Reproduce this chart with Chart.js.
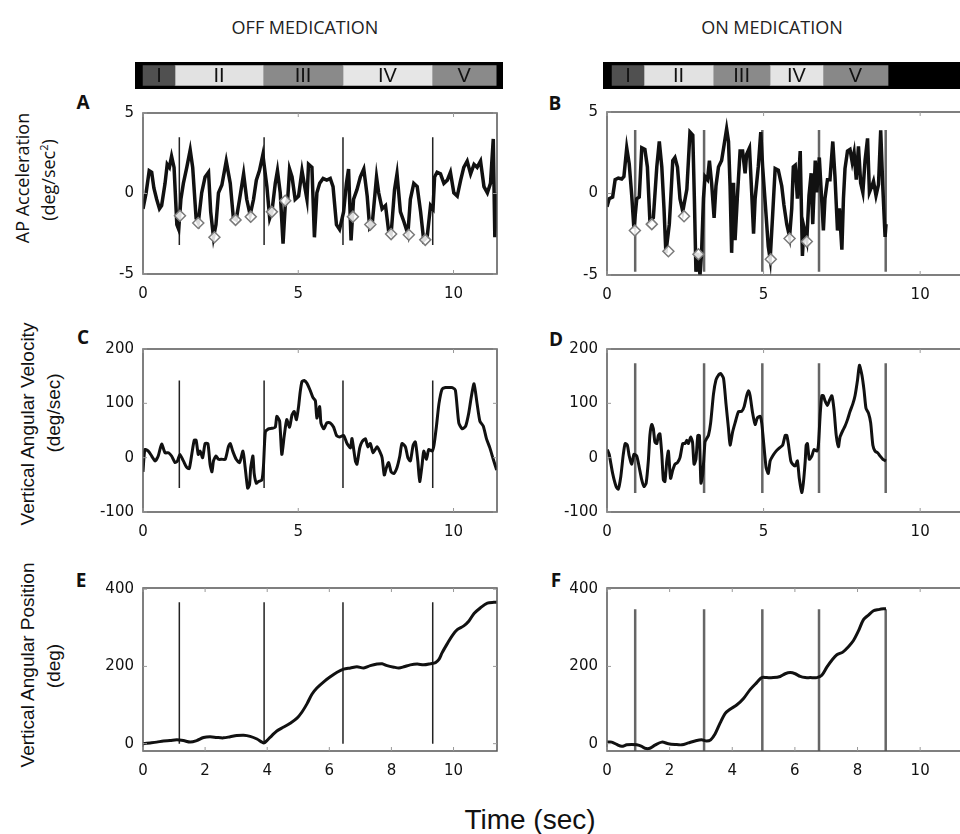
<!DOCTYPE html>
<html>
<head>
<meta charset="utf-8">
<script src="https://cdn.jsdelivr.net/npm/chart.js@4.4.1/dist/chart.umd.min.js"></script>
<style>
html, body { margin: 0; padding: 0; background: #fff; }
body { width: 960px; height: 834px; position: relative; overflow: hidden; font-family: Arial, "Liberation Sans", sans-serif; color: #111; }
canvas { position: absolute; }
.txt { position: absolute; white-space: nowrap; transform: translate(-50%, -50%); line-height: 1; }
.rot { transform: translate(-50%, -50%) rotate(-90deg); }
.col { font-family: "Open Sans", sans-serif; font-size: 18px; color: #222; }
.letter { font-family: "Open Sans", sans-serif; font-weight: bold; font-size: 19px; }
.ytl { font-size: 19px; }
.calib { font-family: "Open Sans", sans-serif; font-size: 18px; }
sup { font-size: 11px; vertical-align: 7px; }
</style>
</head>
<body>
<div class="txt col" style="left:305px; top:27px;">OFF MEDICATION</div>
<div class="txt col" style="left:772px; top:27px;">ON MEDICATION</div>

<div class="txt letter" style="left:83px; top:102px;">A</div>
<div class="txt letter" style="left:555px; top:103px;">B</div>
<div class="txt letter" style="left:83px; top:337px;">C</div>
<div class="txt letter" style="left:556px; top:339px;">D</div>
<div class="txt letter" style="left:81px; top:580px;">E</div>
<div class="txt letter" style="left:556px; top:580px;">F</div>

<div class="txt rot calib" style="left:22px; top:178px;">AP Acceleration</div>
<div class="txt rot calib" style="left:47px; top:180px;">(deg/sec<sup>2</sup>)</div>
<div class="txt rot ytl" style="left:27px; top:424px;">Vertical Angular Velocity</div>
<div class="txt rot ytl" style="left:53px; top:413px;">(deg/sec)</div>
<div class="txt rot ytl" style="left:27px; top:665px;">Vertical Angular Position</div>
<div class="txt rot ytl" style="left:53px; top:666px;">(deg)</div>

<div class="txt" style="left:530px; top:820px; font-size:28px;">Time (sec)</div>

<canvas id="bar-off"></canvas>
<canvas id="bar-on"></canvas>
<canvas id="chart-a"></canvas>
<canvas id="chart-b"></canvas>
<canvas id="chart-c"></canvas>
<canvas id="chart-d"></canvas>
<canvas id="chart-e"></canvas>
<canvas id="chart-f"></canvas>

<script>
// ---- datos ----
// gait phases (sec)
const phaseNames = ["I", "II", "III", "IV", "V"];
const offPhaseStart = [0, 1.03, 3.87, 6.45, 9.32];
const offPhaseEnd = [1.03, 3.87, 6.45, 9.32, 11.39];
const onPhaseStart = [0.16, 1.18, 3.39, 5.21, 6.9];
const onPhaseEnd = [1.18, 3.39, 5.21, 6.9, 8.98];

// tick labels
const xTicks5 = [0, 5, 10];
const xTicks2 = [0, 2, 4, 6, 8, 10];
const accTicks = [-5, 0, 5];
const velTicks = [-100, 0, 100, 200];
const posTicks = [0, 200, 400];

// stride boundaries (sec)
const offStrides = [1.17, 3.9, 6.44, 9.33];
const onStrides = [0.9, 3.1, 4.96, 6.77, 8.9];

// A: AP acceleration, off
const tA = [0, 0.10, 0.20, 0.28, 0.35, 0.44, 0.53, 0.60, 0.71, 0.78,
    0.85, 0.92, 1.00, 1.09, 1.15, 1.22, 1.30, 1.41, 1.52, 1.60,
    1.71, 1.78, 1.89, 2.00, 2.11, 2.18, 2.27, 2.35, 2.43, 2.54,
    2.68, 2.81, 2.91, 3.00, 3.11, 3.24, 3.34, 3.45, 3.56, 3.65,
    3.75, 3.86, 3.99, 4.08, 4.15, 4.26, 4.33, 4.42, 4.51, 4.58,
    4.66, 4.72, 4.80, 4.90, 5.01, 5.12, 5.19, 5.28, 5.33, 5.44,
    5.52, 5.60, 5.69, 5.80, 5.92, 6.03, 6.12, 6.23, 6.33, 6.46,
    6.55, 6.62, 6.70, 6.78, 6.89, 7.00, 7.11, 7.22, 7.30, 7.38,
    7.52, 7.59, 7.70, 7.81, 7.91, 7.99, 8.10, 8.18, 8.29, 8.40,
    8.53, 8.61, 8.72, 8.83, 8.94, 9.04, 9.15, 9.26, 9.34, 9.39,
    9.47, 9.58, 9.69, 9.80, 9.90, 10.01, 10.12, 10.23, 10.33, 10.44,
    10.55, 10.66, 10.76, 10.87, 10.98, 11.09, 11.19, 11.28, 11.33, 11.39];
const vA = [-0.95, 0.04, 1.42, 1.32, 0.34, -0.36, -0.95, -0.75, 0.63, 1.81,
    1.62, 2.31, 1.62, -1.93, -2.23, -0.36, 0.63, 1.62, 2.70, 1.62,
    -1.54, -1.83, 0.04, 1.03, 1.32, -1.14, -2.72, -1.93, 0.04, 0.53,
    2.01, 0.63, -1.54, -1.64, -0.36, 1.22, -0.36, -1.34, -0.36, 0.83,
    1.42, 2.41, 0.43, -1.54, -1.14, 0.63, 1.42, 0.04, -3.12, -0.75,
    -0.36, 1.52, 1.03, -0.36, -0.16, 1.42, 0.63, -0.36, 1.81, 1.62,
    -2.72, 0.04, 0.63, 0.93, 0.83, 0.93, 0.43, -1.93, -2.23, -1.14,
    0.63, 1.52, -2.92, -0.36, 0.24, 1.03, 1.52, -0.16, -2.13, -1.93,
    1.03, 0.04, -0.95, -0.75, -2.33, -2.52, 0.24, 1.22, -1.14, -1.74,
    -2.52, -0.36, 0.63, 0.43, -1.14, -2.92, -2.72, -0.75, -0.95, 1.03,
    1.32, 1.22, 0.63, 0.83, 1.32, 0.04, -0.16, 0.83, 1.62, 2.01,
    1.22, 1.81, 1.62, 2.01, 0.43, 0.04, 0.63, 3.39, -2.72, 0.04];
const heelTA = [1.19, 1.78, 2.30, 2.98, 3.47, 4.15, 4.58, 6.76, 7.32, 7.99, 8.56, 9.09];
const heelVA = [-1.38, -1.83, -2.72, -1.64, -1.44, -1.14, -0.45, -1.44, -1.93, -2.52, -2.56, -2.88];

// B: AP acceleration, on
const tB = [0, 0.07, 0.18, 0.26, 0.36, 0.47, 0.54, 0.63, 0.71, 0.79,
    0.86, 0.95, 1.03, 1.11, 1.21, 1.29, 1.37, 1.48, 1.59, 1.67,
    1.75, 1.82, 1.88, 1.99, 2.03, 2.10, 2.17, 2.25, 2.33, 2.42,
    2.55, 2.65, 2.74, 2.79, 2.84, 2.89, 2.97, 3.02, 3.08, 3.13,
    3.21, 3.27, 3.34, 3.42, 3.48, 3.56, 3.66, 3.74, 3.82, 3.88,
    3.93, 3.98, 4.04, 4.09, 4.16, 4.25, 4.33, 4.41, 4.46, 4.55,
    4.62, 4.68, 4.73, 4.83, 4.91, 4.97, 5.05, 5.10, 5.15, 5.21,
    5.29, 5.37, 5.47, 5.58, 5.65, 5.74, 5.83, 5.90, 5.95, 6.01,
    6.08, 6.17, 6.24, 6.29, 6.38, 6.45, 6.52, 6.57, 6.65, 6.70,
    6.78, 6.86, 6.91, 6.96, 7.04, 7.12, 7.21, 7.28, 7.36, 7.42,
    7.50, 7.55, 7.60, 7.68, 7.76, 7.83, 7.89, 7.96, 8.03, 8.10,
    8.17, 8.24, 8.32, 8.38, 8.46, 8.51, 8.59, 8.67, 8.74, 8.81,
    8.88, 8.91];
const vB = [-0.81, -0.32, -0.22, 0.85, 0.95, 0.89, 1.04, 2.80, 1.82, -0.13,
    -2.17, -0.32, -0.22, 2.80, 2.70, 1.63, -1.69, -1.49, 1.63, 3.19,
    1.63, -0.91, -3.64, -1.88, -0.52, 2.02, 2.21, 1.63, -0.32, -1.10,
    0.26, 3.77, 3.58, -0.32, -4.80, -3.64, -5.0, -3.64, -0.32, 1.04,
    0.85, 2.02, 0.65, -1.49, 0.46, 1.63, 2.02, 2.99, 3.97, 3.19,
    0.46, -3.64, 0.65, -2.86, -0.32, 2.60, 2.60, 1.24, 2.41, 2.80,
    0.07, -2.47, -0.32, 1.63, 3.77, 1.63, -0.52, -1.88, -3.25, -4.03,
    -1.30, 1.53, 1.43, 0.46, -0.71, -1.88, -2.66, -0.91, 1.63, 1.73,
    -0.32, 2.60, -3.83, -2.08, -2.86, -0.13, 1.24, -1.88, 2.02, 0.07,
    2.21, -0.52, -2.27, -0.32, 0.85, 0.85, 3.19, 1.04, -2.27, -0.91,
    -3.44, -0.32, 1.53, 2.60, 2.70, 1.92, 2.50, 0.85, 2.89, 0.65,
    0.07, 2.02, 3.38, 0.07, 0.46, 0.75, -0.13, 0.55, 3.87, 0.26,
    -2.66, -1.88];
const heelTB = [0.89, 1.43, 1.96, 2.46, 2.92, 5.23, 5.83, 6.38];
const heelVB = [-2.27, -1.88, -3.54, -1.39, -3.73, -4.03, -2.76, -2.95];

// C: vertical angular velocity, off
const tC = [0, 0.06, 0.17, 0.28, 0.39, 0.49, 0.60, 0.71, 0.82, 0.92,
    1.03, 1.11, 1.19, 1.30, 1.41, 1.49, 1.57, 1.65, 1.71, 1.78,
    1.84, 1.92, 2.00, 2.09, 2.16, 2.22, 2.27, 2.35, 2.43, 2.54,
    2.65, 2.75, 2.81, 2.89, 3.00, 3.11, 3.22, 3.29, 3.37, 3.43,
    3.47, 3.54, 3.58, 3.65, 3.72, 3.83, 3.88, 3.94, 4.04, 4.15,
    4.26, 4.31, 4.40, 4.47, 4.55, 4.63, 4.72, 4.80, 4.87, 4.94,
    5.01, 5.06, 5.12, 5.19, 5.28, 5.39, 5.47, 5.55, 5.60, 5.69,
    5.73, 5.82, 5.92, 6.03, 6.14, 6.23, 6.33, 6.46, 6.57, 6.68,
    6.73, 6.84, 6.89, 6.98, 7.05, 7.16, 7.24, 7.32, 7.41, 7.54,
    7.62, 7.70, 7.77, 7.84, 7.91, 7.99, 8.08, 8.18, 8.27, 8.34,
    8.45, 8.53, 8.61, 8.70, 8.77, 8.85, 8.91, 8.99, 9.04, 9.13,
    9.20, 9.31, 9.37, 9.45, 9.53, 9.63, 9.74, 9.85, 9.96, 10.06,
    10.17, 10.28, 10.39, 10.49, 10.57, 10.66, 10.76, 10.85, 10.96, 11.06,
    11.17, 11.28, 11.39];
const vC = [-26, 15, 12, 3, -6, 3, 25, 9, 9, 3,
    -9, -6, 6, -6, -18, -20, 6, 32, 32, 6,
    12, 0, 26, 26, -12, -26, -6, 3, -3, -3,
    -3, 20, 26, 12, -3, -9, 12, -18, -56, -50,
    -18, 3, -29, -47, -44, -41, -15, 47, 53, 54,
    56, 76, 67, 6, 41, 70, 56, 79, 85, 70,
    94, 120, 140, 142, 137, 123, 111, 105, 73, 94,
    64, 53, 64, 64, 56, 41, 38, 41, 26, 18,
    35, -6, -12, 18, 29, 35, 20, 26, 9, 20,
    12, 0, -32, -18, -9, -26, -29, -18, 3, 26,
    20, 0, -6, 23, 29, -6, -44, -12, 12, -3,
    15, 12, 23, 58, 99, 126, 129, 129, 129, 124,
    64, 53, 58, 82, 111, 136, 99, 67, 58, 35,
    18, -3, -23];

// D: vertical angular velocity, on
const tD = [0.01, 0.07, 0.18, 0.29, 0.36, 0.44, 0.52, 0.58, 0.65, 0.71,
    0.79, 0.86, 0.95, 1.03, 1.11, 1.18, 1.25, 1.32, 1.37, 1.43,
    1.48, 1.53, 1.59, 1.64, 1.69, 1.75, 1.80, 1.85, 1.91, 1.96,
    2.03, 2.10, 2.17, 2.25, 2.33, 2.42, 2.49, 2.55, 2.60, 2.67,
    2.73, 2.78, 2.84, 2.90, 2.95, 3.00, 3.06, 3.13, 3.18, 3.24,
    3.31, 3.40, 3.48, 3.56, 3.63, 3.72, 3.80, 3.88, 3.93, 4.01,
    4.09, 4.20, 4.30, 4.38, 4.46, 4.52, 4.57, 4.65, 4.73, 4.80,
    4.89, 4.94, 4.99, 5.08, 5.15, 5.21, 5.29, 5.40, 5.51, 5.61,
    5.69, 5.74, 5.79, 5.87, 5.93, 6.01, 6.08, 6.14, 6.22, 6.27,
    6.33, 6.36, 6.40, 6.46, 6.54, 6.61, 6.70, 6.75, 6.81, 6.86,
    6.91, 6.96, 7.04, 7.10, 7.18, 7.25, 7.32, 7.39, 7.44, 7.53,
    7.60, 7.68, 7.76, 7.85, 7.92, 8.00, 8.06, 8.14, 8.21, 8.27,
    8.35, 8.42, 8.49, 8.56, 8.64, 8.72, 8.81, 8.91];
const vD = [15, 6, -29, -53, -58, -35, 6, 26, 23, 3,
    -12, 6, 3, -18, -41, -53, -47, -6, 41, 61,
    53, 29, 26, 41, 44, 6, -41, -44, -6, 12,
    -38, -23, -12, -9, 0, 26, 26, 32, 26, 38,
    29, -12, -3, 41, 41, -47, -29, 29, 35, 41,
    64, 117, 143, 152, 155, 146, 99, 53, 23, 47,
    64, 85, 85, 94, 114, 123, 114, 82, 61, 73,
    76, 64, 35, -18, -29, -6, 3, 12, 18, 23,
    41, 41, 26, -6, -12, -15, -6, -38, -64, -47,
    -6, 23, 26, -3, 3, 15, 12, 23, 82, 114,
    114, 105, 96, 105, 114, 88, 41, 20, 38, 50,
    58, 70, 85, 99, 114, 143, 170, 152, 123, 91,
    82, 64, 23, 12, 9, 3, -3, -6];

// E: vertical angular position, off
const tE = [0, 0.23, 0.44, 0.66, 0.87, 1.09, 1.30, 1.52, 1.73, 1.95,
    2.16, 2.38, 2.59, 2.81, 3.02, 3.24, 3.45, 3.67, 3.83, 3.90,
    3.99, 4.15, 4.31, 4.53, 4.74, 4.96, 5.12, 5.28, 5.44, 5.60,
    5.82, 6.03, 6.25, 6.46, 6.68, 6.89, 7.11, 7.32, 7.54, 7.70,
    7.86, 8.08, 8.24, 8.40, 8.61, 8.83, 9.04, 9.26, 9.42, 9.53,
    9.63, 9.80, 9.96, 10.12, 10.33, 10.49, 10.66, 10.87, 11.09, 11.30,
    11.39];
const vE = [0, 2, 4, 7, 8, 10, 8, 4, 8, 16,
    18, 16, 15, 18, 21, 22, 19, 12, 4, 2,
    8, 21, 33, 43, 53, 66, 82, 103, 128, 144,
    160, 173, 185, 193, 196, 199, 196, 202, 206, 207,
    202, 198, 196, 199, 204, 206, 204, 207, 210, 218,
    235, 259, 280, 295, 305, 317, 337, 352, 364, 366,
    366];

// F: vertical angular position, on
const tF = [0.01, 0.15, 0.31, 0.47, 0.63, 0.79, 0.95, 1.11, 1.21, 1.37,
    1.53, 1.75, 1.96, 2.17, 2.39, 2.60, 2.81, 3.02, 3.18, 3.31,
    3.45, 3.61, 3.77, 3.93, 4.14, 4.36, 4.57, 4.78, 4.94, 5.10,
    5.31, 5.53, 5.69, 5.85, 6.01, 6.17, 6.33, 6.49, 6.70, 6.86,
    7.02, 7.18, 7.34, 7.53, 7.71, 7.87, 8.03, 8.19, 8.35, 8.51,
    8.67, 8.83, 8.91];
const vF = [4, 4, -2, -7, -3, -2, -3, -7, -12, -12,
    -4, 4, 0, -2, -3, 2, 7, 10, 7, 10,
    25, 53, 78, 89, 100, 117, 140, 158, 171, 171,
    171, 174, 181, 184, 181, 174, 171, 171, 171, 177,
    198, 216, 230, 237, 251, 267, 292, 321, 333, 344,
    347, 349, 349];

// ---- layout ----
const AXIS_W = 60, AXIS_H = 35, PAD_T = 10, PAD_R = 10;
const X_MAX = 11.4;

function toPoints(xs, ys) {
    return xs.map((x, i) => ({ x: x, y: ys[i] }));
}

// vertical stride markers, broken apart with null points
function strideLines(times, lo, hi) {
    const pts = [];
    times.forEach((t) => {
        pts.push({ x: t, y: lo }, { x: t, y: hi }, { x: t, y: null });
    });
    return pts;
}

const framePlugin = {
    id: "frame",
    afterDraw(chart) {
        const ctx = chart.ctx;
        const a = chart.chartArea;
        ctx.save();
        ctx.strokeStyle = "#555";
        ctx.lineWidth = 1.5;
        ctx.strokeRect(a.left, a.top, a.right - a.left, a.bottom - a.top);
        ctx.lineWidth = 1;
        ctx.strokeStyle = "#999";
        chart.scales.x.ticks.forEach((t) => {
            const px = chart.scales.x.getPixelForValue(t.value);
            ctx.beginPath();
            ctx.moveTo(px, a.bottom); ctx.lineTo(px, a.bottom - 4);
            ctx.moveTo(px, a.top); ctx.lineTo(px, a.top + 4);
            ctx.stroke();
        });
        chart.scales.y.ticks.forEach((t) => {
            const py = chart.scales.y.getPixelForValue(t.value);
            ctx.beginPath();
            ctx.moveTo(a.left, py); ctx.lineTo(a.left + 4, py);
            ctx.moveTo(a.right, py); ctx.lineTo(a.right - 4, py);
            ctx.stroke();
        });
        ctx.restore();
    },
};

function drawPanel(id, box, p) {
    const canvas = document.getElementById(id);
    canvas.width = box.right - box.left + AXIS_W + PAD_R;
    canvas.height = box.bottom - box.top + PAD_T + AXIS_H;
    canvas.style.left = box.left - AXIS_W + "px";
    canvas.style.top = box.top - PAD_T + "px";

    const datasets = [];
    if (p.heelT) {
        datasets.push({
            type: "scatter",
            data: toPoints(p.heelT, p.heelV),
            pointStyle: "rectRot",
            pointRadius: 5.5,
            borderWidth: 1.5,
            borderColor: "#7a7a7a",
            backgroundColor: "rgba(255,255,255,0.85)",
            showLine: false,
            order: 0,
        });
    }
    datasets.push({
        data: toPoints(p.t, p.v),
        borderColor: "#111",
        borderWidth: p.lineWidth,
        pointRadius: 0,
        tension: p.tension,
        fill: false,
        order: 1,
    });
    datasets.push({
        data: strideLines(p.strides, p.strideLo, p.strideHi),
        borderColor: p.strideColor,
        borderWidth: p.strideWidth,
        pointRadius: 0,
        spanGaps: false,
        order: 2,
    });

    new Chart(canvas.getContext("2d"), {
        type: "line",
        data: { datasets: datasets },
        options: {
            responsive: false,
            animation: false,
            devicePixelRatio: 1,
            layout: { padding: { top: PAD_T, right: PAD_R, left: 0, bottom: 0 } },
            plugins: { legend: { display: false }, tooltip: { enabled: false } },
            scales: {
                x: {
                    type: "linear",
                    min: 0,
                    max: X_MAX,
                    afterBuildTicks: (s) => { s.ticks = p.xTicks.map((v) => ({ value: v })); },
                    afterFit: (s) => { s.height = AXIS_H; },
                    grid: { display: false, drawTicks: false },
                    border: { display: false },
                    ticks: {
                        padding: 11,
                        color: "#111",
                        maxRotation: 0,
                        autoSkip: false,
                        font: { family: "DejaVu Sans", size: 15 },
                    },
                },
                y: {
                    type: "linear",
                    min: p.yMin,
                    max: p.yMax,
                    afterBuildTicks: (s) => { s.ticks = p.yTicks.map((v) => ({ value: v })); },
                    afterFit: (s) => { s.width = AXIS_W; },
                    grid: { display: false, drawTicks: false },
                    border: { display: false },
                    ticks: {
                        padding: 9,
                        color: "#111",
                        autoSkip: false,
                        font: { family: "DejaVu Sans", size: 15 },
                    },
                },
            },
        },
        plugins: [framePlugin],
    });
}

const blackBg = {
    id: "blackBg",
    beforeDatasetsDraw(chart) {
        const a = chart.chartArea;
        chart.ctx.fillStyle = "#000";
        chart.ctx.fillRect(a.left, a.top, a.right - a.left, a.bottom - a.top);
    },
};

const phaseLabels = {
    id: "phaseLabels",
    afterDatasetsDraw(chart) {
        const ctx = chart.ctx;
        ctx.save();
        ctx.fillStyle = "#111";
        ctx.font = "20px Arial";
        ctx.textAlign = "center";
        ctx.textBaseline = "middle";
        chart.data.datasets.forEach((ds, i) => {
            const el = chart.getDatasetMeta(i).data[0];
            ctx.fillText(ds.label, (el.x + el.base) / 2, el.y + 1);
        });
        ctx.restore();
    },
};

function drawPhaseBar(id, left, right, xMin, xMax, starts, ends, colors) {
    const canvas = document.getElementById(id);
    canvas.width = right - left;
    canvas.height = 27;
    canvas.style.left = left + "px";
    canvas.style.top = "62px";
    new Chart(canvas.getContext("2d"), {
        type: "bar",
        data: {
            labels: ["phase"],
            datasets: phaseNames.map((name, i) => ({
                label: name,
                data: [[starts[i], ends[i]]],
                backgroundColor: colors[i],
                borderWidth: 0,
                barThickness: 20,
                grouped: false,
            })),
        },
        options: {
            indexAxis: "y",
            responsive: false,
            animation: false,
            devicePixelRatio: 1,
            layout: { padding: 0 },
            plugins: { legend: { display: false }, tooltip: { enabled: false } },
            scales: {
                x: { type: "linear", min: xMin, max: xMax, display: false },
                y: { display: false },
            },
        },
        plugins: [blackBg, phaseLabels],
    });
}

drawPhaseBar("bar-off", 135, 503, -0.26, 11.61, offPhaseStart, offPhaseEnd,
    ["#505050", "#e2e2e2", "#8a8a8a", "#e6e6e6", "#8a8a8a"]);
drawPhaseBar("bar-on", 603, 975, -0.13, 11.76, onPhaseStart, onPhaseEnd,
    ["#505050", "#e2e2e2", "#8a8a8a", "#e4e4e4", "#888888"]);

const offStyle = { strideColor: "#222", strideWidth: 1.5 };
const onStyle = { strideColor: "#666", strideWidth: 2.5 };

drawPanel("chart-a", { left: 143, right: 497, top: 105, bottom: 274 }, Object.assign({
    t: tA, v: vA, heelT: heelTA, heelV: heelVA, tension: 0, lineWidth: 3.5,
    yMin: -5, yMax: 5, yTicks: accTicks, xTicks: xTicks5,
    strides: offStrides, strideLo: -3.2, strideHi: 3.5,
}, offStyle));
drawPanel("chart-b", { left: 607, right: 964, top: 104, bottom: 275 }, Object.assign({
    t: tB, v: vB, heelT: heelTB, heelV: heelVB, tension: 0, lineWidth: 3.5,
    yMin: -5, yMax: 5, yTicks: accTicks, xTicks: xTicks5,
    strides: onStrides, strideLo: -4.8, strideHi: 3.9,
}, onStyle));
drawPanel("chart-c", { left: 143, right: 497, top: 341, bottom: 512 }, Object.assign({
    t: tC, v: vC, tension: 0.2, lineWidth: 3,
    yMin: -100, yMax: 200, yTicks: velTicks, xTicks: xTicks5,
    strides: offStrides, strideLo: -56, strideHi: 142,
}, offStyle));
drawPanel("chart-d", { left: 607, right: 964, top: 341, bottom: 512 }, Object.assign({
    t: tD, v: vD, tension: 0.2, lineWidth: 3,
    yMin: -100, yMax: 200, yTicks: velTicks, xTicks: xTicks5,
    strides: onStrides, strideLo: -65, strideHi: 174,
}, onStyle));
drawPanel("chart-e", { left: 143, right: 497, top: 580, bottom: 751 }, Object.assign({
    t: tE, v: vE, tension: 0.3, lineWidth: 3,
    yMin: -19, yMax: 403, yTicks: posTicks, xTicks: xTicks2,
    strides: offStrides, strideLo: 0, strideHi: 366,
}, offStyle));
drawPanel("chart-f", { left: 607, right: 964, top: 580, bottom: 751 }, Object.assign({
    t: tF, v: vF, tension: 0.3, lineWidth: 3,
    yMin: -19, yMax: 403, yTicks: posTicks, xTicks: xTicks2,
    strides: onStrides, strideLo: -19, strideHi: 348,
}, onStyle));
</script>
</body>
</html>
